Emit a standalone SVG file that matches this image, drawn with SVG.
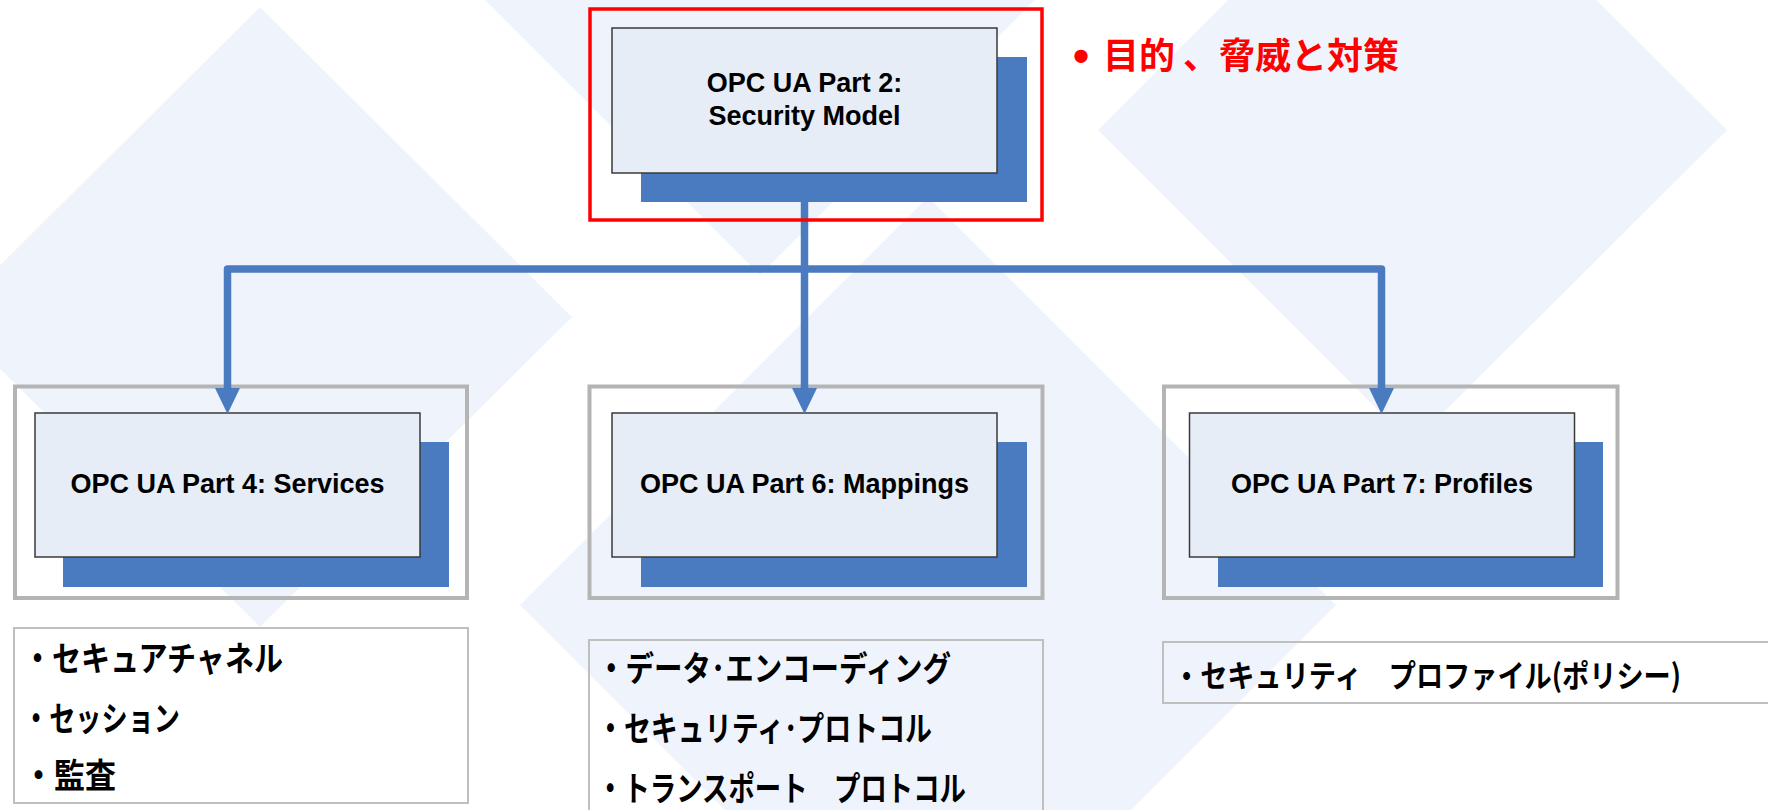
<svg xmlns="http://www.w3.org/2000/svg" width="1768" height="810" viewBox="0 0 1768 810">
  <style>
    .bg { fill: #eff4fc; }
    .frame { fill: none; stroke: #b4b4b4; stroke-width: 4; }
    .shadow { fill: #4a7bc0; }
    .card { fill: #e6edf7; stroke: #3a3a3a; stroke-width: 1.5; }
    .title { font-family: "Liberation Sans", Arial, sans-serif; font-weight: bold; font-size: 27px; fill: #000; text-anchor: middle; }
    .list { fill: none; stroke: #bfbfbf; stroke-width: 2; }
    .item { font-family: "Noto Sans CJK JP", sans-serif; font-weight: bold; font-size: 34px; fill: #000; }
    .item.long { font-size: 31px; }
    .conn { fill: none; stroke: #4a7bc0; stroke-width: 7.5; stroke-linejoin: round; }
    .note { font-family: "Noto Sans CJK JP", sans-serif; font-weight: bold; font-size: 36px; fill: #ff0000; }
  </style>
  <defs>
    <marker id="arrow" markerUnits="userSpaceOnUse" viewBox="0 0 26 26" markerWidth="26" markerHeight="26" refX="0" refY="13" orient="auto-start-reverse">
      <path d="M0,0.5 L26,13 L0,25.5 Z" fill="#4a7bc0"/>
    </marker>
  </defs>

  <rect width="1768" height="810" fill="#ffffff"/>

  <!-- pale decorative diamonds -->
  <g id="background">
    <polygon class="bg" points="260,7 572,317 260,627 -52,317"/>
    <polygon class="bg" points="485,0 760,275 1035,0 760,-275"/>
    <polygon class="bg" points="928,197 1336,605 928,1013 520,605"/>
    <polygon class="bg" points="1412,-184 1727,130 1412,444 1098,130"/>
  </g>

  <g id="node-part4">
    <rect class="frame" x="15" y="386.5" width="452" height="211.5"/>
    <rect class="shadow" x="63" y="442" width="386" height="145"/>
    <rect class="card" x="35" y="413" width="385" height="144"/>
    <text class="title" x="227.5" y="493">OPC UA Part 4: Services</text>
  </g>

  <g id="node-part6">
    <rect class="frame" x="589.5" y="386.5" width="453" height="211.5"/>
    <rect class="shadow" x="641" y="442" width="386" height="145"/>
    <rect class="card" x="612" y="413" width="385" height="144"/>
    <text class="title" x="804.5" y="493">OPC UA Part 6: Mappings</text>
  </g>

  <g id="node-part7">
    <rect class="frame" x="1164" y="386.5" width="453.5" height="211.5"/>
    <rect class="shadow" x="1218" y="442" width="385" height="145"/>
    <rect class="card" x="1189.5" y="413" width="385" height="144"/>
    <text class="title" x="1382" y="493">OPC UA Part 7: Profiles</text>
  </g>

  <g id="connectors">
    <path class="conn" d="M227.5,388 V269 H1381.5 V388" marker-start="url(#arrow)" marker-end="url(#arrow)"/>
    <path class="conn" d="M804.5,202 V388" marker-end="url(#arrow)"/>
  </g>

  <g id="node-part2">
    <rect class="shadow" x="641" y="57" width="386" height="145"/>
    <rect class="card" x="612" y="28" width="385" height="145"/>
    <text class="title" x="804.5" y="92">OPC UA Part 2:</text>
    <text class="title" x="804.5" y="125">Security Model</text>
    <rect x="590" y="9" width="452" height="211" fill="none" stroke="#ff0000" stroke-width="3.5"/>
  </g>

  <g id="note-part2">
    <text x="1073" y="72" font-family="Liberation Sans, Arial, sans-serif" font-weight="bold" font-size="46" fill="#ff0000">•</text>
    <text class="note" x="1103" y="69" textLength="296">目的 、脅威と対策</text>
  </g>

  <g id="list-part4">
    <rect class="list" x="14" y="628" width="454" height="175"/>
    <text class="item" x="23" y="671" textLength="260" lengthAdjust="spacingAndGlyphs">・セキュアチャネル</text>
    <text class="item" x="23" y="731" textLength="157" lengthAdjust="spacingAndGlyphs">・セッション</text>
    <text class="item" x="23" y="788" textLength="93" lengthAdjust="spacingAndGlyphs">・監査</text>
  </g>

  <g id="list-part6">
    <rect class="list" x="589" y="640" width="454" height="200"/>
    <text class="item" x="597" y="681" textLength="354" lengthAdjust="spacingAndGlyphs">・データ･エンコーディング</text>
    <text class="item" x="597" y="741" textLength="335" lengthAdjust="spacingAndGlyphs">・セキュリティ･プロトコル</text>
    <text class="item" x="597" y="801" textLength="369" lengthAdjust="spacingAndGlyphs">・トランスポート　プロトコル</text>
  </g>

  <g id="list-part7">
    <rect class="list" x="1163" y="642" width="606" height="61"/>
    <text class="item long" x="1173" y="687" textLength="508" lengthAdjust="spacingAndGlyphs">・セキュリティ　プロファイル(ポリシー)</text>
  </g>
</svg>
